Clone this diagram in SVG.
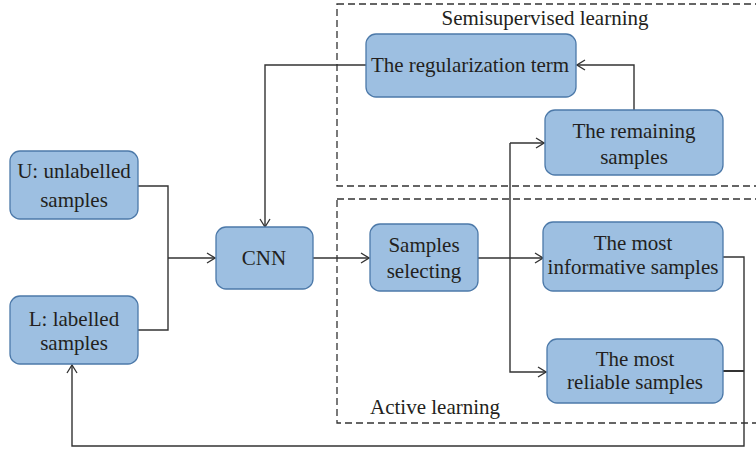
<svg xmlns="http://www.w3.org/2000/svg" width="756" height="449" viewBox="0 0 756 449">
<style>
.box{fill:#9dbfe1;stroke:#4c79a9;stroke-width:1.3}
.t{font-family:"Liberation Serif",serif;font-size:21px;fill:#231f20;text-anchor:middle}
.lab{font-family:"Liberation Serif",serif;font-size:21px;fill:#231f20}
.c{fill:none;stroke:#333;stroke-width:1.4}
.dash{fill:none;stroke:#333;stroke-width:1.3;stroke-dasharray:7 4}
</style>
<defs>
<marker id="a" markerWidth="10" markerHeight="12" refX="9" refY="6" orient="auto" markerUnits="userSpaceOnUse">
<path d="M1,1 L9,6 L1,11" fill="none" stroke="#333" stroke-width="1.3"/>
</marker>
</defs>
<g id="regions">
<rect class="dash" x="337" y="4" width="440" height="182"/>
<text class="lab" x="545" y="25" text-anchor="middle">Semisupervised learning</text>
<rect class="dash" x="337" y="199" width="440" height="224"/>
<text class="lab" x="370" y="414">Active learning</text>
</g>
<g id="connectors">
<path class="c" d="M138,186 H168 V330 H138"/>
<path class="c" d="M168,258 H215" marker-end="url(#a)"/>
<path class="c" d="M366,65 H265 V227" marker-end="url(#a)"/>
<path class="c" d="M313,258 H369" marker-end="url(#a)"/>
<path class="c" d="M478,258 H543" marker-end="url(#a)"/>
<path class="c" d="M510,143 V372 H546" marker-end="url(#a)"/>
<path class="c" d="M510,143 H544" marker-end="url(#a)"/>
<path class="c" d="M634,110 V65 H577" marker-end="url(#a)"/>
<path class="c" d="M723,257 H744 V446 H72 V365" marker-end="url(#a)"/>
<path class="c" d="M723,371 H744" style="stroke-width:2"/>
</g>
<g id="U"><rect class="box" x="10" y="151" width="128" height="68" rx="10"/><text class="t" x="74" y="178">U: unlabelled</text><text class="t" x="74" y="207">samples</text></g>
<g id="L"><rect class="box" x="10" y="296" width="128" height="68" rx="10"/><text class="t" x="74" y="326">L: labelled</text><text class="t" x="74" y="350">samples</text></g>
<g id="CNN"><rect class="box" x="216" y="227" width="97" height="62" rx="10"/><text class="t" x="264" y="265">CNN</text></g>
<g id="reg"><rect class="box" x="366" y="34" width="210" height="63" rx="10"/><text class="t" x="470" y="72">The regularization term</text></g>
<g id="remaining"><rect class="box" x="545" y="110" width="178" height="65" rx="10"/><text class="t" x="634" y="138">The remaining</text><text class="t" x="634" y="164">samples</text></g>
<g id="selecting"><rect class="box" x="370" y="224" width="108" height="67" rx="10"/><text class="t" x="424" y="252">Samples</text><text class="t" x="424" y="278">selecting</text></g>
<g id="informative"><rect class="box" x="543" y="222" width="180" height="69" rx="10"/><text class="t" x="633" y="250">The most</text><text class="t" x="633" y="274">informative samples</text></g>
<g id="reliable"><rect class="box" x="547" y="339" width="176" height="64" rx="10"/><text class="t" x="635" y="366">The most</text><text class="t" x="635" y="389">reliable samples</text></g>
</svg>
